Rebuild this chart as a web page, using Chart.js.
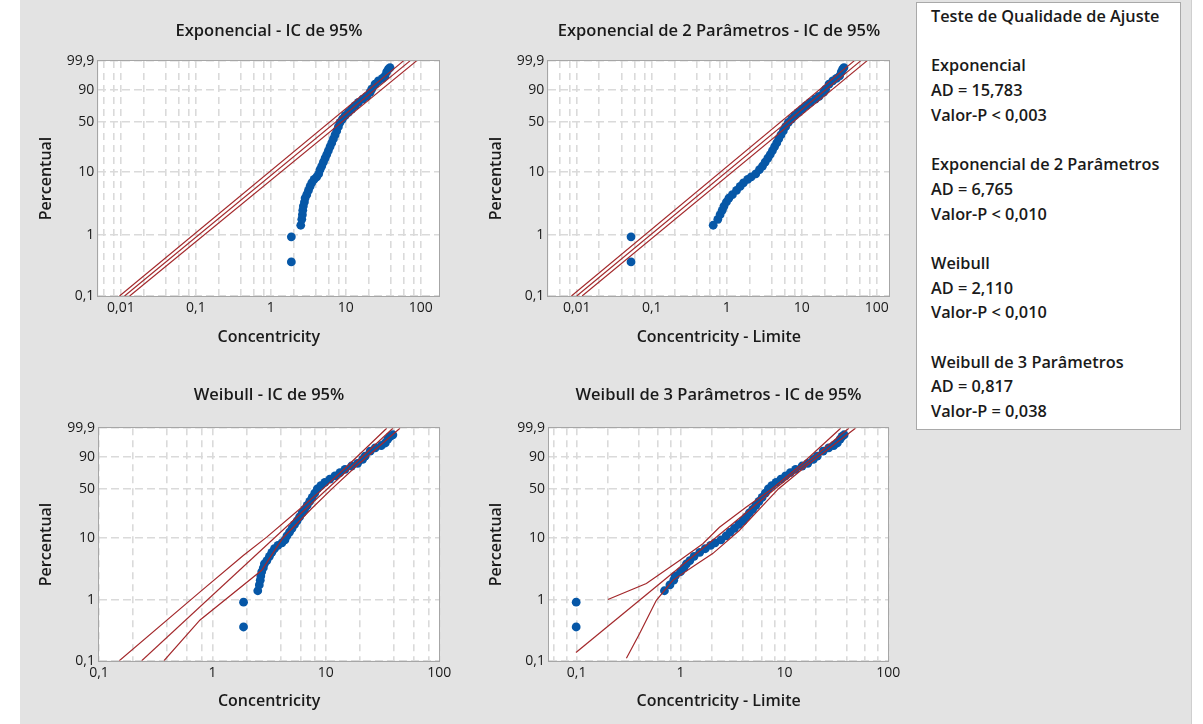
<!DOCTYPE html>
<html>
<head>
<meta charset="utf-8">
<script src="https://cdn.jsdelivr.net/npm/chart.js@4.4.1/dist/chart.umd.min.js"></script>
<style>
  html, body { margin: 0; padding: 0; background: #fff; }
  #pagina { position: relative; width: 1203px; height: 724px; overflow: hidden; }
  #fundo { position: absolute; left: 20px; top: 0; width: 1171px; height: 724px; background: #e3e3e3; border-right: 1px solid #cfcfcf; }
  canvas { position: absolute; }
  #legenda { position: absolute; left: 916px; top: 2px; width: 265px; height: 428px; background: #fff;
             border: 1px solid #a9a9a9; padding-top: 1px; box-sizing: border-box;
             font: 600 16.3px 'Open Sans', 'Noto Sans', sans-serif; color: #1a1a1a; z-index: 5; }
  #legenda div { padding-left: 14px; height: 24.7px; line-height: 24.7px; white-space: nowrap; }
</style>
</head>
<body>
<div id="pagina">
  <div id="fundo"></div>
  <canvas id="g1" width="482" height="360" style="left:28px;top:0px"></canvas>
  <canvas id="g2" width="482" height="360" style="left:478px;top:0px"></canvas>
  <canvas id="g3" width="482" height="360" style="left:28px;top:364px"></canvas>
  <canvas id="g4" width="481" height="360" style="left:478px;top:364px"></canvas>
  <div id="legenda"></div>
</div>
<script>
// percentis (posto mediano), iguais nos 4 painéis
const percentil = [0.36, 0.92, 1.42, 1.77, 2.11, 2.48, 2.9, 3.37, 3.9, 4.41, 5.16, 5.97, 6.82, 7.69, 8.47,
  9.42, 10.9, 12.4, 14.2, 16.3, 18.5, 21.1, 24.1, 27.1, 30.7, 34.7, 39.1, 44.2, 49.6, 54.0,
  58.5, 63.1, 67.7, 72.2, 76.5, 80.6, 83.7, 87.9, 90.8, 94.4, 96.2, 97.2, 98.05, 98.97, 99.36, 99.54];

const concentricity = [1.88, 1.88, 2.51, 2.59, 2.64, 2.67, 2.72, 2.81, 2.87, 3.02, 3.18, 3.34, 3.52, 3.78, 4.10,
  4.36, 4.54, 4.78, 5.03, 5.30, 5.58, 5.87, 6.18, 6.50, 6.84, 7.20, 7.58, 7.98, 8.40, 9.02,
  9.79, 10.84, 12.02, 13.30, 14.74, 16.84, 19.04, 21.09, 22.19, 24.59, 27.24, 30.80, 33.42, 35.18, 37.03, 38.97];

const concLimiteExp2 = [0.053, 0.053, 0.66, 0.76, 0.815, 0.87, 0.92, 0.99, 1.07, 1.19, 1.35, 1.51, 1.67, 1.9, 2.12,
  2.44, 2.73, 3.0, 3.25, 3.53, 3.8, 4.07, 4.35, 4.64, 4.93, 5.28, 5.68, 6.1, 6.63, 7.3,
  8.03, 9.0, 10.1, 11.45, 13.05, 15.15, 17.0, 19.5, 20.8, 23.1, 25.9, 29.0, 32.0, 33.7, 35.1, 36.5];

const concLimiteWeib3 = [0.099, 0.099, 0.70, 0.79, 0.86, 0.89, 1.0, 1.08, 1.14, 1.23, 1.35, 1.53, 1.73, 1.95, 2.15,
  2.45, 2.75, 3.0, 3.3, 3.63, 4.0, 4.3, 4.6, 4.95, 5.3, 5.68, 6.1, 6.55, 7.0, 7.55,
  8.3, 9.25, 10.25, 11.4, 12.8, 14.8, 16.8, 19.0, 20.7, 23.6, 26.7, 29.8, 32.3, 34.4, 35.9, 37.6];

// retas ajustadas e limites do IC de 95%: pares [x, percentual]
const expAjuste = [[0.0112, 0.1], [72, 99.9]];
const expLimInf = [[0.0096, 0.1], [59, 99.9]];
const expLimSup = [[0.0131, 0.1], [88, 99.9]];
const exp2Ajuste = [[0.0100, 0.1], [61, 99.9]];
const exp2LimInf = [[0.0085, 0.1], [50, 99.9]];
const exp2LimSup = [[0.0118, 0.1], [74, 99.9]];
const weibAjuste = [[0.238, 0.1], [39, 99.9]];
const weibLimInf = [[0.151, 0.1], [0.778, 1.36], [1.87, 5.3], [3.01, 10.4], [5.92, 27.6], [9.45, 50], [15.3, 80], [34.4, 99.9]];
const weibLimSup = [[0.374, 0.1], [0.778, 0.47], [2.72, 3.06], [4.16, 10], [7.46, 27.6], [11.36, 50], [18.4, 80], [45, 99.9]];
const weib3Ajuste = [[0.0985, 0.137], [41.7, 99.9]];
const weib3LimInf = [[0.2, 1.02], [0.469, 1.86], [0.978, 4.43], [1.64, 8.2], [2.37, 14.8], [4.27, 29], [7.6, 50], [13.8, 80], [34.8, 99.9]];
const weib3LimSup = [[0.3015, 0.11], [0.404, 0.28], [0.585, 0.99], [0.843, 2.1], [1.31, 3.5], [2.04, 5.7], [3.68, 13.2], [8.8, 50], [16, 80], [48.3, 99.9]];

// eixos
const yTicksPct = [0.1, 1, 10, 50, 90, 99.9];
const yTicksLabel = ['0,1', '1', '10', '50', '90', '99,9'];
const gradeMult = [1, 2, 4, 6, 8];

// tabela do teste de qualidade de ajuste
const distribuicoes = ['Exponencial', 'Exponencial de 2 Parâmetros', 'Weibull', 'Weibull de 3 Parâmetros'];
const valoresAD = ['15,783', '6,765', '2,110', '0,817'];
const valoresP = ['< 0,003', '< 0,010', '< 0,010', '= 0,038'];

const fonte = "'Open Sans', 'Noto Sans', sans-serif";
const corTexto = '#1a1a1a';
const corPonto = '#0657a7';
const corLinha = '#a3282b';
const corGrade = '#dadada';

// escala de probabilidade Weibull: ln(-ln(1-p))
const weib = p => Math.log(-Math.log(1 - p / 100));

function gradeX(min, max) {
  const v = [];
  for (let e = -4; e <= 3; e++) {
    gradeMult.forEach(m => {
      const t = m * Math.pow(10, e);
      if (t >= min * 0.999 && t <= max * 1.001) v.push(t);
    });
  }
  return v;
}

const moldura = {
  id: 'moldura',
  beforeDraw(chart) {
    const { ctx, chartArea: a } = chart;
    ctx.save();
    ctx.fillStyle = '#fff';
    ctx.fillRect(a.left, a.top, a.right - a.left, a.bottom - a.top);
    ctx.restore();
  },
  afterDraw(chart) {
    const { ctx, chartArea: a } = chart;
    ctx.save();
    ctx.strokeStyle = '#a6a6a6';
    ctx.lineWidth = 1;
    ctx.strokeRect(Math.round(a.left) - 0.5, Math.round(a.top) - 0.5,
      Math.round(a.right - a.left) + 1, Math.round(a.bottom - a.top) + 1);
    ctx.restore();
  }
};

function linha(pares) {
  return { data: pares.map(([x, p]) => ({ x: x, y: weib(p) })), showLine: true, pointRadius: 0,
    borderColor: corLinha, borderWidth: 1.2, fill: false };
}

function painel(id, cfg) {
  const grade = gradeX(cfg.xMin, cfg.xMax);
  const canvas = document.getElementById(id);
  const larguraDir = canvas.width - cfg.larguraY - cfg.larguraPlot;
  new Chart(canvas, {
    type: 'scatter',
    data: {
      datasets: [
        linha(cfg.ajuste), linha(cfg.limInf), linha(cfg.limSup),
        { data: cfg.xs.map((x, i) => ({ x: x, y: weib(percentil[i]) })), pointRadius: 4.4,
          pointBackgroundColor: corPonto, pointBorderWidth: 0 }
      ]
    },
    options: {
      responsive: false, animation: false, events: [],
      plugins: {
        legend: { display: false }, tooltip: { enabled: false },
        title: { display: true, text: cfg.titulo, color: corTexto,
          font: { family: fonte, size: 16.5, weight: 600 },
          padding: { top: 21.1, bottom: cfg.tituloBaixo } }
      },
      scales: {
        x: {
          type: 'logarithmic', min: cfg.xMin, max: cfg.xMax, bounds: 'data',
          afterBuildTicks: s => { s.ticks = grade.map(v => ({ value: v })); },
          afterFit: s => { s.height = cfg.alturaX; },
          ticks: { autoSkip: false, maxRotation: 0, padding: cfg.padX, color: corTexto,
            font: { family: fonte, size: 14 },
            callback: v => {
              const l = Math.log10(v);
              return Math.abs(l - Math.round(l)) < 1e-6 ? String(v).replace('.', ',') : '';
            } },
          grid: { color: corGrade, lineWidth: 1.6, drawTicks: false, borderDash: [7, 5] },
          border: { display: false, dash: [7, 5] },
          title: { display: true, text: cfg.tituloX, color: corTexto,
            font: { family: fonte, size: 16, weight: 600 }, padding: { top: 0, bottom: 12.5 } }
        },
        y: {
          type: 'linear', min: weib(0.1), max: weib(99.9), bounds: 'data',
          afterBuildTicks: s => { s.ticks = yTicksPct.map(p => ({ value: weib(p) })); },
          afterFit: s => { s.width = cfg.larguraY; },
          ticks: { autoSkip: false, padding: 4, color: corTexto, font: { family: fonte, size: 14 },
            callback: (v, i) => yTicksLabel[i] },
          grid: { color: corGrade, lineWidth: 1.6, drawTicks: false, borderDash: [8, 4] },
          border: { display: false, dash: [8, 4] },
          title: { display: true, text: 'Percentual', color: corTexto,
            font: { family: fonte, size: 16, weight: 600 }, padding: { top: 8.5, bottom: 0 } }
        },
        // eixo vazio à direita, só para centrar o título sobre a área do gráfico
        margemDir: {
          type: 'linear', position: 'right', display: true,
          afterFit: s => { s.width = larguraDir; },
          ticks: { display: false }, grid: { display: false }, border: { display: false }
        }
      }
    },
    plugins: [moldura]
  });
}

painel('g1', { titulo: 'Exponencial - IC de 95%', tituloX: 'Concentricity', xs: concentricity,
  ajuste: expAjuste, limInf: expLimInf, limSup: expLimSup,
  xMin: 0.005, xMax: 177, larguraY: 70.3, larguraPlot: 341, alturaX: 64, tituloBaixo: 20, padX: 3.5 });
painel('g2', { titulo: 'Exponencial de 2 Parâmetros - IC de 95%', tituloX: 'Concentricity - Limite', xs: concLimiteExp2,
  ajuste: exp2Ajuste, limInf: exp2LimInf, limSup: exp2LimSup,
  xMin: 0.00418, xMax: 147, larguraY: 70.3, larguraPlot: 341, alturaX: 64, tituloBaixo: 20, padX: 3.5 });
painel('g3', { titulo: 'Weibull - IC de 95%', tituloX: 'Concentricity', xs: concentricity,
  ajuste: weibAjuste, limInf: weibLimInf, limSup: weibLimSup,
  xMin: 0.1, xMax: 100, larguraY: 71, larguraPlot: 340.3, alturaX: 63.3, tituloBaixo: 23.3, padX: 4 });
painel('g4', { titulo: 'Weibull de 3 Parâmetros - IC de 95%', tituloX: 'Concentricity - Limite', xs: concLimiteWeib3,
  ajuste: weib3Ajuste, limInf: weib3LimInf, limSup: weib3LimSup,
  xMin: 0.0542, xMax: 100, larguraY: 71, larguraPlot: 339.3, alturaX: 63.3, tituloBaixo: 23.3, padX: 4 });

// legenda do teste
const leg = document.getElementById('legenda');
const linhas = ['Teste de Qualidade de Ajuste'];
distribuicoes.forEach((d, i) => {
  linhas.push('', d, 'AD = ' + valoresAD[i], 'Valor-P ' + valoresP[i]);
});
linhas.forEach(t => {
  const el = document.createElement('div');
  el.textContent = t;
  leg.appendChild(el);
});
</script>
</body>
</html>
